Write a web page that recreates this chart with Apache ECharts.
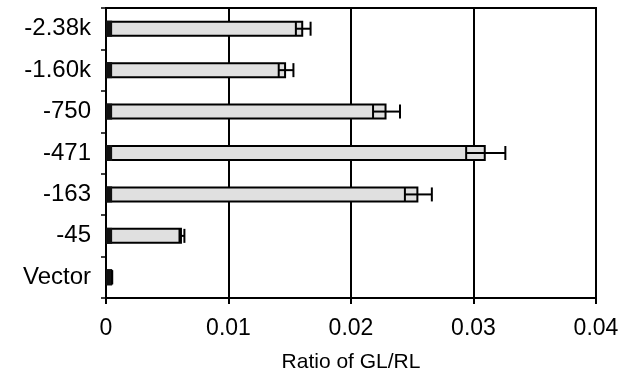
<!DOCTYPE html>
<html>
<head>
<meta charset="utf-8">
<script src="https://cdn.jsdelivr.net/npm/echarts@6/dist/echarts.min.js"></script>
<style>
  html, body { margin: 0; padding: 0; background: #fff; }
  #main { width: 633px; height: 378px; }
</style>
</head>
<body>
<div id="main"></div>
<script>
// bottom to top, as the category axis runs
var categories = ['Vector', '-45', '-163', '-471', '-750', '-1.60k', '-2.38k'];
var ratios     = [0.0005, 0.0062, 0.0255, 0.0310, 0.0229, 0.0147, 0.0161];
var errors     = [0, 0.0002, 0.0011, 0.0016, 0.0011, 0.0006, 0.0006];
var baseDark   = [0.0005, 0.0005, 0.0005, 0.0005, 0.0005, 0.0005, 0.0005];
var xTicks     = [0, 0.01, 0.02, 0.03, 0.04];

var errData = ratios.map(function (v, i) {
    return [i, v - errors[i], v + errors[i]];
});

var chartDom = document.getElementById('main');
var myChart = echarts.init(chartDom);
var option = {
    animation: false,
    textStyle: {
        fontFamily: 'Liberation Sans, Arial, sans-serif',
        color: '#000'
    },
    grid: {
        left: 106,
        right: 37,
        top: 8,
        bottom: 79,
        show: true,
        borderColor: '#000',
        borderWidth: 2
    },
    xAxis: {
        type: 'value',
        min: xTicks[0],
        max: xTicks[xTicks.length - 1],
        interval: 0.01,
        name: 'Ratio of GL/RL',
        nameLocation: 'middle',
        nameGap: 54,
        nameTextStyle: { fontSize: 21, color: '#000' },
        axisLine: { show: true, lineStyle: { color: '#000', width: 2 } },
        axisTick: { show: true, length: 6, lineStyle: { color: '#000', width: 2 } },
        axisLabel: {
            fontSize: 23,
            color: '#000',
            margin: 19,
            formatter: function (v) { return v === 0 ? '0' : v.toFixed(2); }
        },
        splitLine: { show: true, lineStyle: { color: '#000', width: 2 } }
    },
    yAxis: {
        type: 'category',
        data: categories,
        axisLine: { show: true, lineStyle: { color: '#000', width: 2 } },
        axisTick: { show: true, length: 5, lineStyle: { color: '#000', width: 1.5 } },
        axisLabel: { fontSize: 24, color: '#000', margin: 15 },
        splitLine: { show: false }
    },
    series: [
        {
            type: 'bar',
            data: ratios,
            barWidth: 16,
            barGap: '-100%',
            itemStyle: {
                color: '#e0e0e0',
                borderColor: '#000',
                borderWidth: 2
            }
        },
        {
            type: 'bar',
            data: baseDark,
            barWidth: 16,
            barGap: '-100%',
            itemStyle: { color: '#111' }
        },
        {
            type: 'custom',
            data: errData,
            encode: { x: [1, 2], y: 0 },
            renderItem: function (params, api) {
                var idx = api.value(0);
                var lo = api.coord([api.value(1), idx]);
                var hi = api.coord([api.value(2), idx]);
                var h = 7;
                var style = { stroke: '#000', lineWidth: 2 };
                return {
                    type: 'group',
                    children: [
                        { type: 'line', shape: { x1: lo[0], y1: lo[1], x2: hi[0], y2: hi[1] }, style: style },
                        { type: 'line', shape: { x1: lo[0], y1: lo[1] - h, x2: lo[0], y2: lo[1] + h }, style: style },
                        { type: 'line', shape: { x1: hi[0], y1: hi[1] - h, x2: hi[0], y2: hi[1] + h }, style: style }
                    ]
                };
            },
            z: 5
        }
    ]
};
myChart.setOption(option);
</script>
</body>
</html>
